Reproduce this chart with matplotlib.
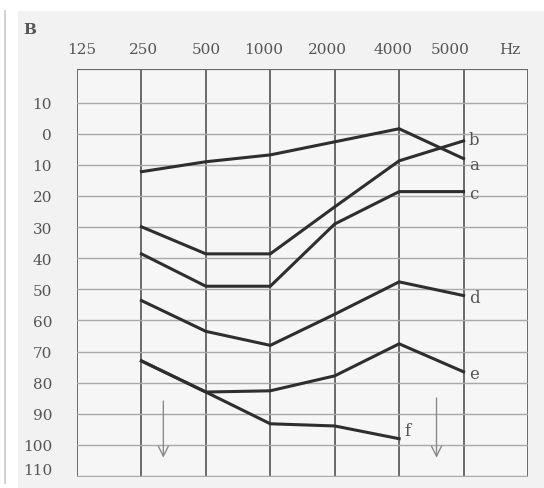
import matplotlib
matplotlib.use("Agg")
import matplotlib.pyplot as plt
from matplotlib.patches import Rectangle
from matplotlib.lines import Line2D

# ---- data ----
freq_labels = ["125", "250", "500", "1000", "2000", "4000", "5000", "Hz"]
db_ticks = [-10, 0, 10, 20, 30, 40, 50, 60, 70, 80, 90, 100, 110]
db_tick_labels = ["10", "0", "10", "20", "30", "40", "50", "60", "70", "80", "90", "100", "110"]

curve_a_x = [1, 2, 3, 4, 5, 6]
curve_a = [12.2, 9, 6.8, 2.6, -1.6, 8]
curve_b_x = [1, 2, 3, 4, 5, 6]
curve_b = [29.9, 38.6, 38.6, 23.5, 8.7, 2.3]
curve_c_x = [1, 2, 3, 4, 5, 6]
curve_c = [38.6, 49, 49, 29, 18.6, 18.6]
curve_d_x = [1, 2, 3, 4, 5, 6]
curve_d = [53.6, 63.5, 68, 58, 47.6, 52]
curve_e_x = [1, 2, 3, 4, 5, 6]
curve_e = [73, 83, 82.6, 77.8, 67.5, 76.5]
curve_f_x = [1, 2, 3, 4, 5]
curve_f = [73, 83, 93.2, 93.9, 98]

labels = ["a", "b", "c", "d", "e", "f"]

fig = plt.figure(figsize=(5.44, 4.89), dpi=100)
fig.patch.set_facecolor("white")
W, H = 544, 489

def fx(px):
    return px / W

def fy(py):
    return 1 - py / H

# scanned page background and left edge
fig.add_artist(Rectangle((fx(18), 0), 1 - fx(18), fy(12), transform=fig.transFigure,
                         facecolor="#f2f2f2", edgecolor="none", zorder=0))
fig.add_artist(Line2D([fx(5), fx(5)], [0.01, fy(12)], transform=fig.transFigure,
                      color="#c8c8c8", lw=1.2))

ax = fig.add_axes([fx(77), fy(478), fx(528) - fx(77), fy(70) - fy(478)])
ax.set_facecolor("#f6f6f6")
ax.set_xlim(0, 7)
ax.set_ylim(110.3, -20.8)

grid_col = "#6a6a6a"
for x in range(0, 8):
    ax.axvline(x, color=grid_col, lw=1.4, zorder=1)
for y in db_ticks:
    ax.axhline(y, color="#a8a8a8", lw=1.0, zorder=1)
ax.axhline(-20.8, color=grid_col, lw=1.6, zorder=1)

for s in ax.spines.values():
    s.set_visible(False)

font = dict(family=["DejaVu Serif"], color="#555555")

label_shift = [0.08, 0.03, 0.0, -0.1, -0.12, -0.1, -0.2, -0.28]
ax.set_xticks([i + s for i, s in enumerate(label_shift)])
ax.set_xticklabels(freq_labels, fontdict=dict(size=11, **font))
ax.xaxis.tick_top()
ax.tick_params(axis="x", length=0, pad=9)
ytick_shift = [0] * 12 + [-2.3]
ax.set_yticks([t + s for t, s in zip(db_ticks, ytick_shift)])
ax.set_yticklabels(db_tick_labels, fontdict=dict(size=11, **font))
ax.tick_params(axis="y", length=0, pad=18)

line_col = "#2e2e2e"
label_dy = {"a": 2.0, "b": -0.5, "c": 0.5, "d": 0.5, "e": 0.5, "f": -2.5}
series = [(curve_a_x, curve_a), (curve_b_x, curve_b), (curve_c_x, curve_c),
          (curve_d_x, curve_d), (curve_e_x, curve_e), (curve_f_x, curve_f)]
for (xs, ys), lab in zip(series, labels):
    ax.plot(xs, ys, color=line_col, lw=2.2, solid_joinstyle="miter", zorder=3)
    ax.text(xs[-1] + 0.08, ys[-1] + label_dy[lab], lab, fontsize=12, va="center",
            ha="left", zorder=4, **font)

# down arrows
for ax_x, y0, y1 in [(1.34, 85, 105), (5.58, 84, 105)]:
    ax.annotate("", xy=(ax_x, y1), xytext=(ax_x, y0),
                arrowprops=dict(arrowstyle="->", color="#8a8a8a", lw=1.0,
                                mutation_scale=18), zorder=2)

fig.text(fx(30), fy(30), "B", fontsize=11, ha="center", va="center",
         fontweight="bold", **font)

fig.savefig("out.png", dpi=100, facecolor=fig.get_facecolor())
